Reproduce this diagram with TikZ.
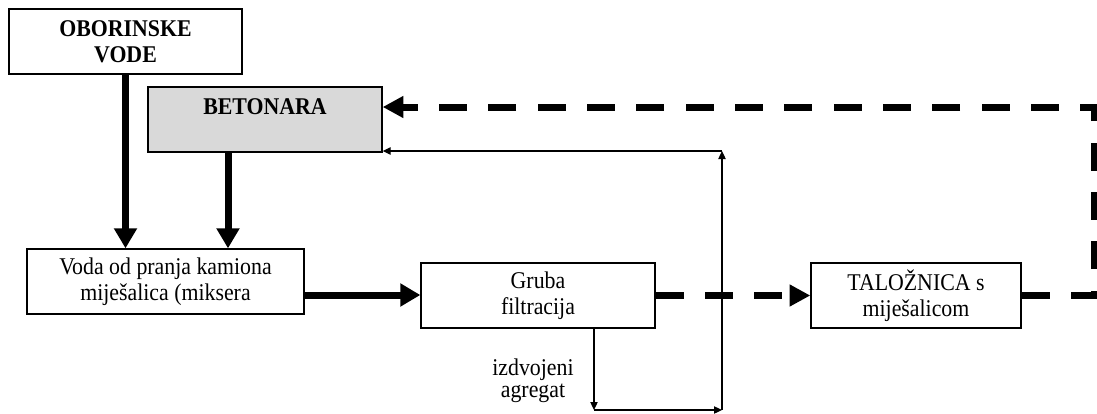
\documentclass[tikz,border=0pt]{standalone}
\usepackage{fontspec}
\setmainfont{Liberation Serif}[FakeStretch=0.91]
\usetikzlibrary{arrows.meta}
\begin{document}
\begin{tikzpicture}[x=0.75pt,y=-0.75pt,
  box/.style={draw=black, line width=1pt, fill=white, minimum height=48.75pt, inner sep=0pt, align=center, font=\fontsize{18}{19.5}\selectfont},
  lbl/.style={inner sep=0pt, align=center, font=\fontsize{18}{16.5}\selectfont},
  thickarrow/.style={line width=5.25pt, -{Triangle[length=15pt,width=16.5pt]}},
  dasharrow/.style={line width=5.25pt, dash pattern=on 21pt off 16pt, -{Triangle[length=15.5pt,width=15.5pt]}},
  thinarrow/.style={line width=0.9pt, -{Triangle[length=6pt,width=5.5pt]}},
]
\useasboundingbox (0,0) rectangle (1097,414);

\node[box, minimum width=174.75pt, font=\fontsize{18}{19.5}\selectfont\bfseries] (obo) at (125.5,41.5) {OBORINSKE\\VODE};
\node[box, minimum width=175.5pt, fill={rgb,255:red,217;green,217;blue,217}, font=\fontsize{18}{19.5}\selectfont\bfseries] (bet) at (265,119.5) {BETONARA\\\mbox{}};
\node[box, minimum width=207.75pt] (voda) at (165.5,281.5) {Voda od pranja kamiona\\miješalica (miksera};
\node[box, minimum width=175.5pt] (gruba) at (538,295.5) {Gruba\\filtracija};
\node[box, minimum width=157.5pt] (tal) at (916,295.5) {TALOŽNICA s\\miješalicom};

\node[lbl, anchor=north] (lab) at (533,359) {izdvojeni\\agregat};

\coordinate (rc) at (1094,107);
\coordinate (c1) at (594,410);
\coordinate (c2) at (722,410);
\coordinate (c3) at (722,151);

% thick arrows
\draw[thickarrow] (obo.south) -- (obo.south |- voda.north);
\draw[thickarrow] ([xshift=-27.75pt]bet.south) -- ([xshift=-27.75pt]bet.south |- voda.north);
\draw[thickarrow] ([yshift=-10.125pt]voda.east) -- ([yshift=-10.125pt]voda.east -| gruba.west);

% thin arrows
\draw[thinarrow] ([xshift=42pt]gruba.south) -- (c1);
\draw[thinarrow] (c1) -- (c2);
\draw[thinarrow] (c2) -- (c3);
\draw[thinarrow] (c3) -- (c3 -| bet.east);

% dashed arrows
\draw[dasharrow] (gruba.east) -- (tal.west);
\draw[dasharrow] (tal.east) -| (rc) -- (rc -| bet.east);
\end{tikzpicture}
\end{document}
